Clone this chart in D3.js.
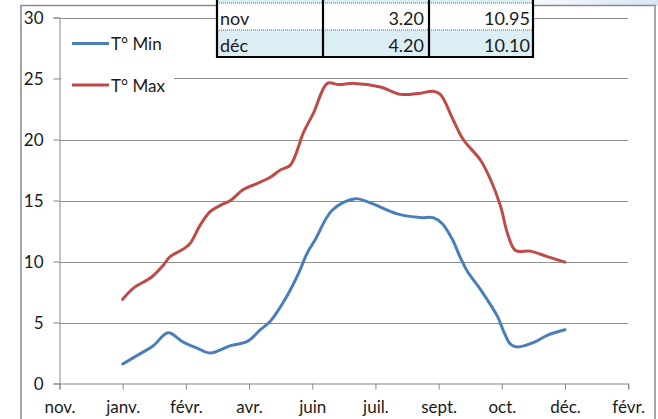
<!DOCTYPE html>
<html>
<head>
<meta charset="utf-8" />
<script src="https://d3js.org/d3.v7.min.js"></script>
<style>
  body { margin: 0; background: #fff; }
  text { font-family: Lato, "Open Sans", sans-serif; fill: #1a1a1a; }
</style>
</head>
<body>
<svg id="chart" width="658" height="419"></svg>
<script>
// x positions are in months (1 = janv., 12 = déc.)
var tickLabels = ["nov.", "janv.", "févr.", "avr.", "juin", "juil.", "sept.", "oct.", "déc.", "févr."];
var yTicks = [0, 5, 10, 15, 20, 25, 30];

var minMonths = [1, 1.36, 1.76, 2.13, 2.5, 2.85, 3.18, 3.68, 4.1, 4.42, 4.67, 5.09, 5.37, 5.59, 5.79, 6.21, 6.78, 7.16, 7.83, 8.4, 8.72, 8.95, 9.2, 9.4, 9.57, 9.9, 10.32, 10.47, 10.65, 10.81, 11.21, 11.56, 12];
var minTemps  = [1.6, 2.3, 3.1, 4.15, 3.4, 2.9, 2.5, 3.1, 3.45, 4.4, 5.1, 7.2, 9.0, 10.7, 11.8, 14.2, 15.15, 14.8, 13.9, 13.6, 13.6, 13.1, 11.8, 10.3, 9.2, 7.7, 5.5, 4.3, 3.2, 3.0, 3.35, 3.95, 4.4];

var maxMonths = [1, 1.26, 1.73, 2.01, 2.18, 2.5, 2.68, 2.93, 3.18, 3.43, 3.68, 4.0, 4.35, 4.67, 4.92, 5.17, 5.5, 5.75, 6.09, 6.37, 6.75, 7.41, 7.91, 8.4, 8.72, 8.9, 9.22, 9.47, 9.9, 10.15, 10.4, 10.57, 10.77, 11.14, 11.56, 12];
var maxTemps  = [6.9, 7.8, 8.75, 9.7, 10.4, 11.0, 11.5, 13.0, 14.1, 14.6, 15.0, 15.9, 16.4, 16.9, 17.5, 17.9, 20.6, 22.2, 24.6, 24.5, 24.6, 24.3, 23.7, 23.8, 23.95, 23.7, 21.6, 20.0, 18.3, 16.7, 14.5, 12.3, 10.9, 10.85, 10.4, 9.95];

var seriesNames = ["T° Min", "T° Max"];
var seriesColors = ["#4a7ebb", "#be4b48"];

// table rows shown at the top
var tableMonths = ["nov", "déc"];
var tableMin = ["3.20", "4.20"];
var tableMax = ["10.95", "10.10"];

var svg = d3.select("#chart");

var plotLeft = 59.5, plotRight = 628.2, plotTop = 17.5, plotBottom = 383.5;
var step = 11 / 7;   // months per axis tick
var tickValues = tickLabels.map(function(d, i) { return 1 + (i - 1) * step; });

var x = d3.scaleLinear()
  .domain([tickValues[0], tickValues[tickValues.length - 1]])
  .range([plotLeft, plotRight]);

var y = d3.scaleLinear()
  .domain([0, 30])
  .range([plotBottom, plotTop]);

// window background strip top right
var defs = svg.append("defs");
var grad = defs.append("linearGradient").attr("id", "bg").attr("x1", "0").attr("x2", "1");
grad.append("stop").attr("offset", "0").attr("stop-color", "#ffffff");
grad.append("stop").attr("offset", "1").attr("stop-color", "#d6e5f6");
svg.append("rect").attr("x", 500).attr("y", 0).attr("width", 158).attr("height", 6).attr("fill", "url(#bg)");

// chart frame
svg.append("rect")
  .attr("x", 21).attr("y", 5.5)
  .attr("width", 634).attr("height", 440)
  .attr("fill", "#fff")
  .attr("stroke", "#8a8a8a")
  .attr("stroke-width", 1.5);

// gridlines + y axis
var yAxis = svg.append("g")
  .attr("transform", "translate(" + plotLeft + ",0)")
  .call(d3.axisLeft(y).tickValues(yTicks).tickSize(6).tickPadding(10).tickFormat(d3.format("d")));
yAxis.select(".domain").attr("stroke", "#868686");
yAxis.selectAll(".tick line").attr("stroke", "#868686");
yAxis.selectAll(".tick text").style("font-size", "17px").attr("fill", "#1a1a1a").attr("dy", "0.36em");

svg.append("g").selectAll("line")
  .data(yTicks.filter(function(d) { return d > 0; }))
  .enter().append("line")
  .attr("x1", plotLeft).attr("x2", plotRight)
  .attr("y1", function(d) { return Math.round(y(d)) + 0.5; })
  .attr("y2", function(d) { return Math.round(y(d)) + 0.5; })
  .attr("stroke", "#8f8f8f");

// x axis
var xAxis = svg.append("g")
  .attr("transform", "translate(0," + plotBottom + ")")
  .call(d3.axisBottom(x).tickValues(tickValues).tickSize(6).tickPadding(11)
    .tickFormat(function(d, i) { return tickLabels[i]; }));
xAxis.select(".domain").attr("stroke", "#868686");
xAxis.selectAll(".tick line").attr("stroke", "#868686");
xAxis.selectAll(".tick text").style("font-size", "17px").attr("fill", "#1a1a1a");

// lines
var line = d3.line()
  .x(function(d) { return x(d[0]); })
  .y(function(d) { return y(d[1]); })
  .curve(d3.curveCatmullRom.alpha(0.5));

var series = [d3.zip(minMonths, minTemps), d3.zip(maxMonths, maxTemps)];
svg.append("g").selectAll("path")
  .data(series)
  .enter().append("path")
  .attr("d", line)
  .attr("fill", "none")
  .attr("stroke", function(d, i) { return seriesColors[i]; })
  .attr("stroke-width", 3)
  .attr("stroke-linecap", "round");

// legend
svg.append("rect").attr("x", 61).attr("y", 26).attr("width", 113).attr("height", 74).attr("fill", "#fff");
var legend = svg.append("g").selectAll("g")
  .data(seriesNames)
  .enter().append("g")
  .attr("transform", function(d, i) { return "translate(72," + (43.5 + i * 41.5) + ")"; });
legend.append("line")
  .attr("x1", 0).attr("x2", 37)
  .attr("stroke", function(d, i) { return seriesColors[i]; })
  .attr("stroke-width", 3);
legend.append("text")
  .attr("x", 39).attr("y", 6.5)
  .style("font-size", "17px")
  .text(function(d) { return d; });

// table overlay
var cols = [217, 323, 429, 533];
var rowH = 27, rowTop = 3;
var tbl = svg.append("g");
tbl.append("rect").attr("x", cols[0]).attr("y", -30).attr("width", cols[3] - cols[0]).attr("height", rowTop + 30).attr("fill", "#daeef3");
var rows = tbl.selectAll("g.row")
  .data(tableMonths)
  .enter().append("g")
  .attr("transform", function(d, i) { return "translate(0," + (rowTop + i * rowH) + ")"; });
rows.append("rect")
  .attr("x", cols[0]).attr("width", cols[3] - cols[0]).attr("height", rowH)
  .attr("fill", function(d, i) { return i % 2 ? "#daeef3" : "#ffffff"; });
rows.append("line")
  .attr("x1", cols[0]).attr("x2", cols[3])
  .attr("stroke", "#666").attr("stroke-dasharray", "1,1");
rows.append("text").attr("x", cols[0] + 3).attr("y", 22).style("font-size", "18px").text(function(d) { return d; });
rows.append("text").attr("x", cols[2] - 5).attr("y", 22).attr("text-anchor", "end").style("font-size", "18px")
  .text(function(d, i) { return tableMin[i]; });
rows.append("text").attr("x", cols[3] - 3).attr("y", 22).attr("text-anchor", "end").style("font-size", "18px")
  .text(function(d, i) { return tableMax[i]; });
var tBottom = rowTop + tableMonths.length * rowH;
tbl.selectAll("line.col")
  .data(cols)
  .enter().append("line")
  .attr("x1", function(d) { return d; }).attr("x2", function(d) { return d; })
  .attr("y1", 0).attr("y2", tBottom + 1)
  .attr("stroke", "#000").attr("stroke-width", 2.2);
tbl.append("line")
  .attr("x1", cols[0] - 1).attr("x2", cols[3] + 1)
  .attr("y1", tBottom).attr("y2", tBottom)
  .attr("stroke", "#000").attr("stroke-width", 2.2);
</script>
</body>
</html>
